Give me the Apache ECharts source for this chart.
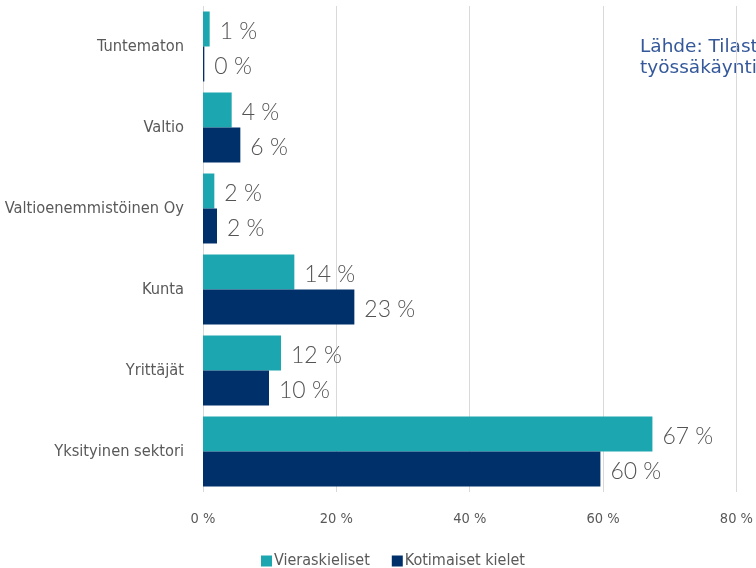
<!DOCTYPE html>
<html>
<head>
<meta charset="utf-8">
<script src="https://cdn.jsdelivr.net/npm/echarts@6/dist/echarts.min.js"></script>
<style>
  html, body { margin: 0; padding: 0; background: #fff; }
  #main { width: 756px; height: 568px; }
</style>
</head>
<body>
<div id="main"></div>
<script>
var categories = ['Yksityinen sektori', 'Yrittäjät', 'Kunta', 'Valtioenemmistöinen Oy', 'Valtio', 'Tuntematon'];
var vieraskieliset = [67.4, 11.7, 13.7, 1.7, 4.3, 1.0];
var kotimaiset = [59.6, 9.9, 22.7, 2.1, 5.6, 0.2];
var seriesNames = ['Vieraskieliset', 'Kotimaiset kielet'];

var narrow = '"DejaVu Sans Condensed", "Liberation Sans Narrow", Roboto, sans-serif';

var chart = echarts.init(document.getElementById('main'));

var labelStyle = {
    show: true,
    position: 'right',
    distance: 10,
    offset: [0, 3],
    fontFamily: 'Lato',
    fontWeight: 300,
    fontSize: 23,
    color: '#545454',
    formatter: function (p) { return Math.round(p.value) + ' %'; }
};

chart.setOption({
    animation: false,
    grid: { left: 203, right: 18, top: 6, bottom: 76, containLabel: false },
    legend: {
        left: 256,
        top: 548,
        itemWidth: 11,
        itemHeight: 11,
        itemGap: 22,
        icon: 'rect',
        textStyle: { fontFamily: narrow, fontSize: 16, color: '#595959', padding: [0, 0, 0, -3] },
        data: seriesNames
    },
    xAxis: {
        type: 'value',
        min: 0,
        max: 80,
        interval: 20,
        axisLine: { show: false },
        axisTick: { show: false },
        splitLine: { lineStyle: { color: '#d9d9d9', width: 1 } },
        axisLabel: {
            margin: 20,
            fontFamily: narrow,
            fontSize: 14.5,
            color: '#595959',
            formatter: '{value} %'
        }
    },
    yAxis: {
        type: 'category',
        data: categories,
        axisLine: { show: false },
        axisTick: { show: false },
        axisLabel: {
            margin: 19,
            fontFamily: narrow,
            fontSize: 16.3,
            color: '#595959'
        }
    },
    series: [
        {
            name: seriesNames[0],
            type: 'bar',
            data: vieraskieliset,
            barGap: '0%',
            barCategoryGap: '13.6%',
            itemStyle: { color: '#1CA6B0' },
            label: labelStyle
        },
        {
            name: seriesNames[1],
            type: 'bar',
            data: kotimaiset,
            barGap: '0%',
            barCategoryGap: '13.6%',
            itemStyle: { color: '#00306A' },
            label: labelStyle
        }
    ],
    graphic: [{
        type: 'text',
        left: 640,
        top: 37,
        style: {
            text: 'Lähde: Tilastokeskus,\ntyössäkäyntitilasto',
            fontFamily: 'DejaVu Sans',
            fontSize: 18.5,
            lineHeight: 21,
            fill: '#34589A'
        }
    }]
});
</script>
</body>
</html>
